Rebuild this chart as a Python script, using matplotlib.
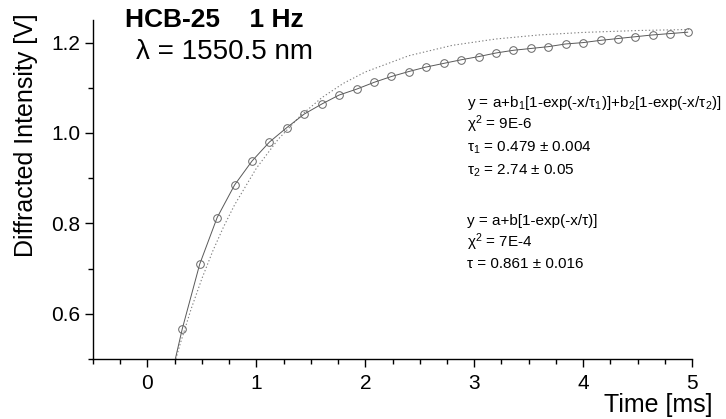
"""HCB-25 grating build-up at 1 Hz, 1550.5 nm: data with bi- and mono-exponential fits."""
import matplotlib

matplotlib.use("Agg")
import matplotlib.pyplot as plt
from matplotlib.ticker import MultipleLocator

# measured diffracted intensity (open circles)
time_ms = [0.32, 0.48, 0.64, 0.80, 0.96, 1.12, 1.28, 1.44, 1.60, 1.76,
           1.92, 2.08, 2.24, 2.40, 2.56, 2.72, 2.88, 3.04, 3.20, 3.36,
           3.52, 3.68, 3.84, 4.00, 4.16, 4.32, 4.48, 4.64, 4.80, 4.96]
intensity_v = [0.567, 0.710, 0.813, 0.885, 0.938, 0.980, 1.012, 1.042, 1.064, 1.084,
               1.097, 1.112, 1.125, 1.136, 1.146, 1.154, 1.162, 1.169, 1.177, 1.183,
               1.187, 1.191, 1.197, 1.200, 1.205, 1.209, 1.213, 1.217, 1.220, 1.223]

# bi-exponential fit curve
biexp_t = [0.256, 0.32, 0.48, 0.64, 0.80, 0.96, 1.12, 1.28, 1.44, 1.60, 1.76,
           1.92, 2.08, 2.24, 2.40, 2.56, 2.72, 2.88, 3.04, 3.20, 3.36,
           3.52, 3.68, 3.84, 4.00, 4.16, 4.32, 4.48, 4.64, 4.80, 4.96]
biexp_v = [0.500, 0.567, 0.710, 0.813, 0.885, 0.938, 0.980, 1.012, 1.042, 1.064, 1.084,
           1.097, 1.112, 1.125, 1.136, 1.146, 1.154, 1.162, 1.169, 1.177, 1.183,
           1.187, 1.191, 1.197, 1.200, 1.205, 1.209, 1.213, 1.217, 1.220, 1.223]

# mono-exponential fit curve (dotted)
mono_t = [0.26, 0.30, 0.40, 0.50, 0.60, 0.70, 0.80, 1.00, 1.20, 1.40, 1.60,
          1.80, 2.00, 2.40, 2.80, 3.20, 3.60, 4.00, 4.50, 4.97]
mono_v = [0.500, 0.533, 0.610, 0.678, 0.739, 0.793, 0.841, 0.922, 0.986, 1.037, 1.078,
          1.110, 1.135, 1.171, 1.194, 1.208, 1.217, 1.2225, 1.2267, 1.229]

fit_lines = [
    "y = a+b$_1$[1-exp(-x/τ$_1$)]+b$_2$[1-exp(-x/τ$_2$)]",
    "χ$^2$ = 9E-6",
    "τ$_1$ = 0.479 ± 0.004",
    "τ$_2$ = 2.74 ± 0.05",
    "y = a+b[1-exp(-x/τ)]",
    "χ$^2$ = 7E-4",
    "τ = 0.861 ± 0.016",
]
fit_baselines_px = [107, 129, 152, 175, 225, 247, 268]


def main() -> None:
    plt.rcParams["font.family"] = ["Liberation Sans", "DejaVu Sans"]
    plt.rcParams["mathtext.fontset"] = "custom"
    plt.rcParams["mathtext.rm"] = "Liberation Sans"
    plt.rcParams["mathtext.it"] = "Liberation Sans"
    plt.rcParams["mathtext.default"] = "rm"

    W, H = 726, 419
    fig = plt.figure(figsize=(W / 100, H / 100), dpi=100)
    ax = fig.add_axes([93 / W, 1 - 359 / H, (692 - 93) / W, (359 - 20) / H])

    ax.plot(mono_t, mono_v, color="0.5", lw=0.8, ls=(0, (1.2, 2.0)), zorder=2)
    ax.plot(biexp_t, biexp_v, color="0.35", lw=0.7, zorder=3)
    ax.plot(time_ms, intensity_v, ls="none", marker="o", ms=5.5, mfc="none",
            mec="0.4", mew=0.7, zorder=4)

    ax.set_xlim(-0.5, 5.0)
    ax.set_ylim(0.5, 1.25)
    ax.xaxis.set_major_locator(MultipleLocator(1))
    ax.xaxis.set_minor_locator(MultipleLocator(0.25))
    ax.yaxis.set_major_locator(MultipleLocator(0.2))
    ax.yaxis.set_minor_locator(MultipleLocator(0.1))
    ax.yaxis.set_major_formatter(lambda v, p: f"{v:.1f}")

    for side in ("top", "right"):
        ax.spines[side].set_visible(False)
    ax.spines["left"].set_linewidth(1.0)
    ax.spines["bottom"].set_linewidth(1.0)
    ax.tick_params(which="major", direction="out", length=6, width=1.0, labelsize=15)
    ax.tick_params(which="minor", direction="out", length=3.5, width=1.0)
    ax.tick_params(axis="x", which="major", pad=5)
    ax.tick_params(axis="y", which="major", pad=3)

    ax.set_ylabel("Diffracted Intensity [V]", fontsize=18)
    ax.yaxis.set_label_coords(-0.092, 0.661)
    ax.set_xlabel("Time [ms]", fontsize=18, loc="right")
    ax.xaxis.set_label_coords(1.035, -0.10)

    fig.text(125 / W, 1 - 27 / H, "HCB-25    1 Hz", fontsize=19,
             fontweight="bold", va="baseline")
    fig.text(136 / W, 1 - 59 / H, "λ = 1550.5 nm", fontsize=20, va="baseline")

    for line, base in zip(fit_lines, fit_baselines_px):
        fig.text(467 / W, 1 - base / H, line, fontsize=11, va="baseline")

    fig.savefig("out.png", dpi=100)
    plt.close(fig)


if __name__ == "__main__":
    main()
